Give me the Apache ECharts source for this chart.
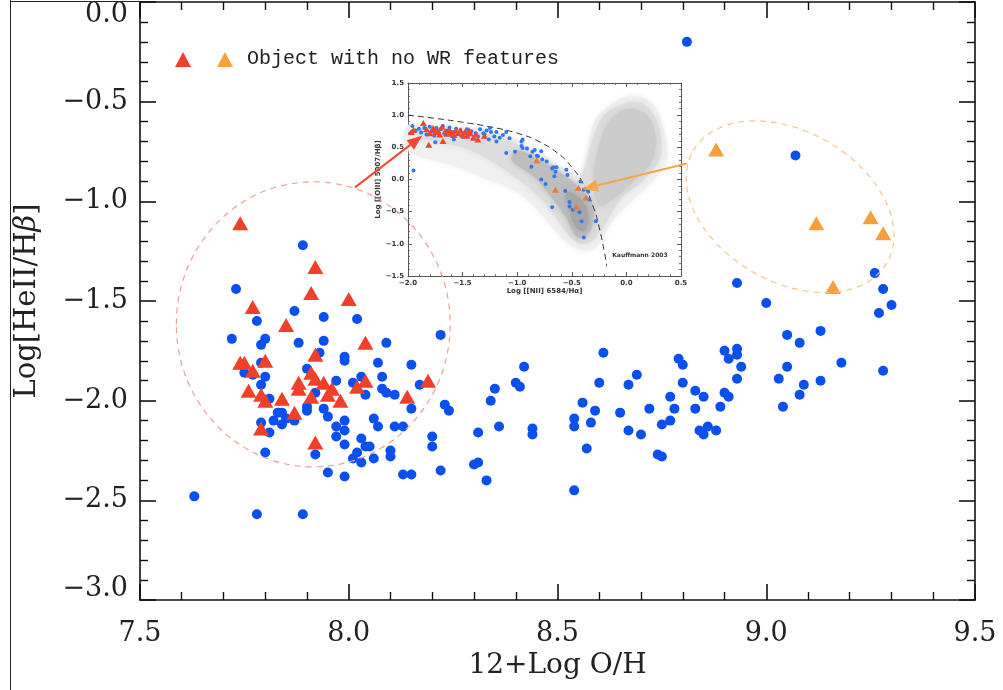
<!DOCTYPE html>
<html>
<head>
<meta charset="utf-8">
<script src="https://cdn.jsdelivr.net/npm/echarts@6/dist/echarts.min.js"></script>
<style>html,body{margin:0;padding:0;background:#fff}#main{width:1003px;height:690px}</style>
</head>
<body>
<div id="main"></div>
<script>
// main panel: [12+Log O/H, Log HeII/Hb]
var blueObjects = [
  [7.89,-1.22],[7.73,-1.44],[7.78,-1.60],[7.87,-1.55],[7.94,-1.58],[8.02,-1.59],[7.72,-1.69],[7.80,-1.69],
  [7.79,-1.72],[7.88,-1.71],[7.94,-1.70],[8.09,-1.71],[7.93,-1.76],[7.99,-1.78],[7.99,-1.80],[7.79,-1.81],
  [8.07,-1.81],[8.15,-1.82],[7.90,-1.84],[7.75,-1.86],[7.77,-1.87],[7.80,-1.88],[8.03,-1.88],[8.08,-1.88],
  [7.97,-1.90],[8.01,-1.91],[8.17,-1.92],[7.79,-1.92],[8.08,-1.94],[8.09,-1.96],[8.11,-1.97],[8.04,-1.97],
  [7.92,-1.96],[7.81,-1.99],[7.90,-2.03],[7.90,-2.05],[7.94,-2.04],[8.15,-2.04],[7.95,-2.08],[7.83,-2.06],
  [7.84,-2.06],[7.82,-2.10],[7.84,-2.12],[7.85,-2.09],[7.87,-2.10],[7.79,-2.11],[7.99,-2.10],[7.97,-2.13],
  [7.99,-2.15],[7.97,-2.18],[7.99,-2.22],[8.06,-2.09],[8.07,-2.13],[8.11,-2.13],[8.13,-2.13],[7.81,-2.16],
  [8.03,-2.19],[8.04,-2.23],[8.05,-2.23],[8.10,-2.25],[8.10,-2.28],[8.02,-2.26],[8.01,-2.29],[8.03,-2.31],
  [8.06,-2.29],[8.20,-2.18],[8.20,-2.23],[7.80,-2.26],[7.92,-2.27],[7.95,-2.36],[7.99,-2.38],[8.13,-2.37],
  [8.15,-2.37],[7.63,-2.48],[7.78,-2.57],[7.89,-2.57],[8.22,-1.67],
  [8.23,-2.02],[8.24,-2.05],[8.22,-2.35],[8.31,-2.16],[8.30,-2.32],[8.31,-2.31],[8.33,-2.40],[8.34,-2.00],
  [8.35,-1.94],[8.36,-2.13],[8.40,-1.91],[8.41,-1.93],[8.42,-1.83],[8.44,-2.14],[8.44,-2.17],[8.54,-2.45],
  [8.54,-2.09],[8.54,-2.13],[8.56,-2.01],[8.57,-2.24],[8.58,-2.11],[8.59,-2.05],[8.60,-1.91],[8.61,-1.76],
  [8.65,-2.06],[8.67,-2.15],[8.67,-1.92],[8.69,-1.87],[8.70,-2.17],[8.72,-2.04],[8.74,-2.27],[8.75,-2.28],
  [8.75,-2.12],[8.77,-1.98],[8.77,-2.10],[8.78,-2.04],[8.79,-1.79],[8.80,-1.82],[8.80,-1.91],[8.83,-1.95],
  [8.85,-1.98],[8.83,-2.04],[8.84,-2.15],[8.85,-2.17],[8.86,-2.13],[8.88,-2.15],
  [8.81,-0.20],[9.07,-0.77],[8.93,-1.41],[9.00,-1.51],[9.26,-1.36],[9.28,-1.44],[9.30,-1.52],[9.27,-1.56],
  [9.05,-1.67],[9.08,-1.71],[9.13,-1.65],[9.18,-1.81],[9.28,-1.85],[8.90,-1.75],[8.93,-1.74],[8.91,-1.79],
  [8.93,-1.77],[8.94,-1.83],[8.93,-1.89],[8.90,-1.96],[8.91,-1.98],[8.89,-2.03],[9.05,-1.83],[9.03,-1.89],
  [9.09,-1.92],[9.13,-1.90],[9.08,-1.97],[9.04,-2.03]
];
var redTriangles = [
  [7.74,-1.11],[7.92,-1.33],[7.91,-1.46],[8.00,-1.49],[7.77,-1.53],[7.85,-1.62],[8.04,-1.71],[7.92,-1.77],
  [7.74,-1.81],[7.75,-1.81],[7.80,-1.80],[7.77,-1.85],[7.91,-1.86],[7.88,-1.91],[7.88,-1.94],[7.92,-1.89],
  [7.94,-1.91],[7.96,-1.94],[7.95,-1.97],[7.98,-2.00],[8.04,-1.90],[8.02,-1.93],[7.76,-1.95],[7.79,-1.97],
  [7.80,-2.00],[7.84,-1.99],[7.91,-1.98],[7.87,-2.06],[7.79,-2.14],[7.92,-2.21],[8.14,-1.98],[8.19,-1.90]
];
var orangeTriangles = [[8.88,-0.74],[9.12,-1.11],[9.25,-1.08],[9.28,-1.16],[9.16,-1.43]];

// inset BPT diagram: [Log NII/Ha, Log OIII/Hb]
var insetBlue = [
  [-1.98,0.72],[-1.96,0.83],[-1.93,0.76],[-1.90,0.79],[-1.88,0.73],[-1.85,0.80],[-1.83,0.70],[-1.80,0.82],
  [-1.78,0.75],[-1.76,0.68],[-1.74,0.80],[-1.72,0.72],[-1.70,0.78],[-1.68,0.83],[-1.66,0.70],[-1.64,0.76],
  [-1.62,0.81],[-1.60,0.68],[-1.58,0.74],[-1.56,0.79],[-1.54,0.71],[-1.52,0.77],[-1.50,0.66],[-1.48,0.73],
  [-1.46,0.78],[-1.44,0.70],[-1.42,0.75],[-1.40,0.64],[-1.38,0.72],[-1.36,0.67],[-1.34,0.78],[-1.31,0.72],
  [-1.30,0.70],[-1.28,0.76],[-1.25,0.80],[-1.26,0.62],[-1.24,0.74],[-1.21,0.67],[-1.19,0.74],[-1.19,0.59],
  [-1.16,0.65],[-1.13,0.69],[-1.10,0.74],[-1.10,0.41],[-1.07,0.64],[-1.02,0.43],[-0.96,0.59],[-0.95,0.49],
  [-0.95,0.62],[-0.96,0.52],[-0.91,0.48],[-0.88,0.36],[-0.87,0.20],[-0.86,0.43],[-0.84,0.46],[-0.82,0.37],
  [-0.81,0.36],[-0.78,0.44],[-0.77,0.31],[-0.78,0.00],[-0.74,-0.07],[-0.73,0.28],[-0.68,0.17],[-0.67,0.19],
  [-0.68,-0.43],[-0.66,0.05],[-0.65,0.12],[-0.64,0.19],[-0.56,-0.18],[-0.55,0.15],[-0.54,0.07],[-0.52,-0.35],
  [-0.52,-0.42],[-0.49,-0.47],[-0.43,-0.51],[-0.42,-0.03],[-0.41,-0.65],[-0.39,-0.16],[-0.39,-0.90],[-0.35,-0.19],
  [-0.34,-0.31],[-0.28,-0.65],[-1.95,0.14],[-1.75,0.58],[-1.58,0.62]
];
var insetRed = [
  [-1.97,0.74],[-1.95,0.77],[-1.86,0.88],[-1.81,0.54],[-1.83,0.78],[-1.80,0.72],[-1.77,0.80],[-1.75,0.74],
  [-1.73,0.77],[-1.71,0.70],[-1.69,0.82],[-1.68,0.60],[-1.66,0.75],[-1.64,0.71],[-1.62,0.77],[-1.60,0.73],
  [-1.58,0.69],[-1.56,0.76],[-1.54,0.72],[-1.52,0.76],[-1.50,0.70],[-1.48,0.74],[-1.46,0.68],[-1.44,0.76],
  [-1.43,0.72],[-1.40,0.65],[-1.38,0.70],[-1.36,0.62],[-1.30,0.68]
];
var insetOrange = [[-0.82,0.30],[-0.65,-0.16],[-0.44,-0.13],[-0.37,-0.28],[-0.46,-0.42]];
// Kauffmann 2003 demarcation
var kauffmannLine = [
  [-2.0,1.0],[-1.75,0.95],[-1.5,0.89],[-1.25,0.82],[-1.0,0.72],[-0.8,0.59],[-0.6,0.37],[-0.5,0.19],
  [-0.4,-0.05],[-0.3,-0.44],[-0.25,-0.74],[-0.2,-1.14],[-0.18,-1.35]
];
// SDSS galaxy cloud outlines (grey levels, light to dark)
var cloudHaze = [[-2.0,0.84],[-1.7,0.84],[-1.4,0.8],[-1.15,0.72],[-0.95,0.57],[-0.75,0.37],[-0.55,0.14],[-0.42,0.08],
  [-0.35,0.45],[-0.3,0.88],[-0.2,1.08],[-0.05,1.26],[0.1,1.3],[0.26,1.14],[0.35,0.7],[0.37,0.3],[0.27,0.03],
  [0.06,-0.32],[-0.12,-0.62],[-0.22,-0.92],[-0.3,-1.08],[-0.42,-1.1],[-0.52,-1.02],[-0.65,-0.8],[-0.8,-0.5],
  [-1.0,-0.2],[-1.3,0.02],[-1.6,0.22],[-2.0,0.45]];
var cloudBand = [[-1.9,0.78],[-1.6,0.76],[-1.3,0.72],[-1.1,0.62],[-0.9,0.45],[-0.7,0.25],[-0.55,0.05],[-0.45,-0.03],
  [-0.38,0.2],[-0.31,0.62],[-0.22,0.97],[-0.05,1.16],[0.12,1.2],[0.26,0.98],[0.32,0.6],[0.3,0.3],[0.16,0.0],
  [-0.05,-0.3],[-0.18,-0.65],[-0.28,-0.9],[-0.38,-1.0],[-0.48,-0.95],[-0.6,-0.7],[-0.75,-0.35],[-0.95,-0.05],
  [-1.2,0.25],[-1.5,0.5],[-1.9,0.65]];
var cloudBranch = [[-0.24,0.6],[-0.14,0.95],[0.02,1.1],[0.2,0.98],[0.27,0.6],[0.22,0.25],[0.05,-0.05],[-0.12,-0.3],
  [-0.25,-0.4],[-0.3,0.0]];
var cloudCore = [[-1.0,0.45],[-0.8,0.3],[-0.6,0.1],[-0.45,-0.1],[-0.32,-0.35],[-0.3,-0.6],[-0.35,-0.85],
  [-0.45,-0.9],[-0.55,-0.6],[-0.7,-0.25],[-0.85,0.05],[-1.05,0.3]];
var cloudPeak = [[-0.55,-0.2],[-0.42,-0.3],[-0.35,-0.55],[-0.38,-0.8],[-0.46,-0.75],[-0.52,-0.5]];

var mainX = {min: 7.5, max: 9.5, step: 0.5};
var mainY = {min: -3.0, max: 0.0, step: 0.5};
var insetX = {min: -2.0, max: 0.5, step: 0.5};
var insetY = {min: -1.5, max: 1.5, step: 0.5};

var myChart = echarts.init(document.getElementById('main'));

var SERIF = 'DejaVu Serif';
function fmt(v) { return (Math.abs(v) < 1e-9 ? 0 : v).toFixed(1).replace('-', '\u2212'); }
var bigLabel = {fontSize: 27, fontFamily: SERIF, color: '#222'};

function axisCommon(grid, pos, range, big, showLabel) {
  var w = big ? 1.6 : 1;
  var col = big ? '#111' : '#555';
  return {
    gridIndex: grid, type: 'value', position: pos,
    min: range.min, max: range.max, interval: range.step,
    axisLine: {onZero: false, lineStyle: {color: col, width: w}},
    axisTick: {inside: true, length: big ? 16 : 4, lineStyle: {color: col, width: w}},
    minorTick: {show: true, splitNumber: 5, length: big ? 8 : 2, lineStyle: {color: col, width: big ? 1.4 : 0.8}},
    splitLine: {show: false},
    axisLabel: {show: showLabel}
  };
}

var xMain = axisCommon(0, 'bottom', mainX, true, true);
xMain.axisLabel = Object.assign({show: true, margin: 20, formatter: fmt}, bigLabel);
xMain.name = '12+Log O/H';
xMain.nameLocation = 'middle';
xMain.nameGap = 52;
xMain.nameTextStyle = {fontSize: 28, fontFamily: SERIF, color: '#222'};

var yMain = axisCommon(0, 'left', mainY, true, true);
yMain.axisLabel = Object.assign({
  show: true, margin: 12,
  formatter: function (v) {
    if (v === mainY.max) return '{t|' + fmt(v) + '}';
    if (v === mainY.min) return '{b|' + fmt(v) + '}';
    return fmt(v);
  },
  rich: {
    t: Object.assign({padding: [26, 0, 0, 0]}, bigLabel),
    b: Object.assign({padding: [0, 0, 22, 0]}, bigLabel)
  }
}, bigLabel);
yMain.name = 'Log[HeII/H{i|\u03b2}]';
yMain.nameLocation = 'middle';
yMain.nameGap = 98;
yMain.nameTextStyle = {fontSize: 29, fontFamily: SERIF, color: '#222',
  rich: {i: {fontSize: 29, fontFamily: SERIF, fontStyle: 'italic', color: '#222'}}};

var smallLabel = {show: true, fontSize: 7, fontWeight: 'bold', fontFamily: 'DejaVu Sans', color: '#333', formatter: fmt};
var xIns = axisCommon(1, 'bottom', insetX, false, true);
xIns.axisLabel = Object.assign({margin: 4}, smallLabel);
xIns.name = 'Log [[NII] 6584/H\u03b1]';
xIns.nameLocation = 'middle';
xIns.nameGap = 12;
xIns.nameTextStyle = {fontSize: 7, fontWeight: 'bold', fontFamily: 'DejaVu Sans', color: '#333'};
var yIns = axisCommon(1, 'left', insetY, false, true);
yIns.axisLabel = Object.assign({margin: 4}, smallLabel);
yIns.name = 'Log [[OIII] 5007/H\u03b2]';
yIns.nameLocation = 'middle';
yIns.nameGap = 19;
yIns.nameTextStyle = {fontSize: 7, fontWeight: 'bold', fontFamily: 'DejaVu Sans', color: '#333'};

var cloudShapes = [cloudHaze, cloudBand, cloudBranch, cloudCore, cloudPeak];
var cloudColors = ['#f0f0f0', '#dddddd', '#cccccc', '#bdbdbd', '#a6a6a6'];

option = {
  backgroundColor: '#fff',
  animation: false,
  grid: [
    {left: 140, top: 2, width: 835, height: 598},
    {left: 408, top: 83, width: 273, height: 193, show: true, backgroundColor: '#fff', borderWidth: 0}
  ],
  xAxis: [xMain, axisCommon(0, 'top', mainX, true, false), xIns, axisCommon(1, 'top', insetX, false, false)],
  yAxis: [yMain, axisCommon(0, 'right', mainY, true, false), yIns, axisCommon(1, 'right', insetY, false, false)],
  series: [
    {
      name: 'cloud', type: 'custom', xAxisIndex: 2, yAxisIndex: 2, silent: true, z: 1,
      data: cloudShapes.map(function (s, i) { return [i]; }),
      renderItem: function (params, api) {
        var idx = api.value(0);
        return {
          type: 'polygon',
          shape: {points: cloudShapes[idx].map(function (p) { return api.coord(p); }), smooth: 0.35},
          style: {fill: cloudColors[idx], shadowBlur: 6, shadowColor: cloudColors[idx]}
        };
      }
    },
    {
      name: 'Kauffmann', type: 'line', xAxisIndex: 2, yAxisIndex: 2, data: kauffmannLine,
      smooth: true, showSymbol: false, z: 3,
      lineStyle: {color: '#333', width: 1, type: [6, 4]}
    },
    {type: 'scatter', xAxisIndex: 2, yAxisIndex: 2, data: insetBlue, symbolSize: 4, z: 4,
      itemStyle: {color: '#2f78f0', opacity: 1}},
    {type: 'scatter', xAxisIndex: 2, yAxisIndex: 2, data: insetRed, symbol: 'triangle', symbolSize: [7, 6], z: 5,
      itemStyle: {color: '#ee4530', opacity: 1}},
    {type: 'scatter', xAxisIndex: 2, yAxisIndex: 2, data: insetOrange, symbol: 'triangle', symbolSize: [7, 6], z: 5,
      itemStyle: {color: '#ea7a3a', opacity: 1}},
    {type: 'scatter', xAxisIndex: 0, yAxisIndex: 0, data: blueObjects, symbolSize: 10, z: 4,
      itemStyle: {color: '#0a50f0', opacity: 1}},
    {type: 'scatter', xAxisIndex: 0, yAxisIndex: 0, data: redTriangles, symbol: 'triangle', symbolSize: [16, 14], z: 5,
      itemStyle: {color: '#f0402a', opacity: 1}},
    {type: 'scatter', xAxisIndex: 0, yAxisIndex: 0, data: orangeTriangles, symbol: 'triangle', symbolSize: [16, 14], z: 5,
      itemStyle: {color: '#f5a03c', opacity: 1}}
  ]
};
myChart.setOption(option);

// annotations: dashed groups, arrows into the inset, legend
function mp(p) { return myChart.convertToPixel({xAxisIndex: 0, yAxisIndex: 0}, p); }
function ip(p) { return myChart.convertToPixel({xAxisIndex: 2, yAxisIndex: 2}, p); }

function arrow(p0, p1, color) {
  var ang = Math.atan2(p1[1] - p0[1], p1[0] - p0[0]);
  var L = 15, W = 6;
  var bx = p1[0] - L * Math.cos(ang), by = p1[1] - L * Math.sin(ang);
  return [
    {type: 'line', z: 100, shape: {x1: p0[0], y1: p0[1], x2: bx, y2: by}, style: {stroke: color, lineWidth: 2}},
    {type: 'polygon', z: 100, shape: {points: [[p1[0], p1[1]],
      [bx - W * Math.sin(ang), by + W * Math.cos(ang)], [bx + W * Math.sin(ang), by - W * Math.cos(ang)]]},
      style: {fill: color}}
  ];
}

var redC = mp([7.915, -1.617]);
var redR = [mp([7.915 + 0.328, -1.617])[0] - redC[0], mp([7.915, -1.617 + 0.715])[1] - redC[1]];
var orC = mp([9.057, -1.027]);
var pxPerX = mp([8.5, 0])[0] - mp([7.5, 0])[0];

var graphics = [
  {type: 'line', z: 100, shape: {x1: 10.5, y1: 0, x2: 10.5, y2: 690}, style: {stroke: '#222', lineWidth: 1}},
  {type: 'line', z: 100, shape: {x1: 10, y1: 1.5, x2: 140, y2: 1.5}, style: {stroke: '#222', lineWidth: 1}},
  {type: 'ellipse', z: 90, shape: {cx: redC[0], cy: redC[1], rx: Math.abs(redR[0]), ry: Math.abs(redR[1])},
    style: {fill: 'transparent', stroke: '#f3968a', lineWidth: 1.1, lineDash: [6, 5]}},
  {type: 'ellipse', z: 90, x: orC[0], y: orC[1], rotation: -Math.PI / 6,
    shape: {cx: 0, cy: 0, rx: 0.268 * pxPerX, ry: 0.18 * pxPerX},
    style: {fill: 'transparent', stroke: '#f8c080', lineWidth: 1.1, lineDash: [6, 5]}},
  {type: 'text', z: 100, x: ip([-0.13, -1.18])[0], y: ip([-0.13, -1.18])[1],
    style: {text: 'Kauffmann 2003', fontSize: 6, fontWeight: 'bold', fontFamily: 'DejaVu Sans', fill: '#333',
      verticalAlign: 'middle'}},
  {type: 'polygon', z: 100, shape: {points: [[175, 67], [191, 67], [183, 52]]}, style: {fill: '#f0402a'}},
  {type: 'polygon', z: 100, shape: {points: [[217, 67], [233, 67], [225, 52]]}, style: {fill: '#f5a03c'}},
  {type: 'text', z: 100, x: 247, y: 59,
    style: {text: 'Object with no WR features', fontSize: 20, fontFamily: 'Liberation Mono', fill: '#222',
      verticalAlign: 'middle'}}
];
graphics = graphics.concat(arrow(mp([8.015, -0.93]), ip([-1.87, 0.68]), '#ef4a33'));
graphics = graphics.concat(arrow(mp([8.81, -0.81]), ip([-0.40, -0.15]), '#f5a54a'));
myChart.setOption({graphic: graphics});
</script>
</body>
</html>
